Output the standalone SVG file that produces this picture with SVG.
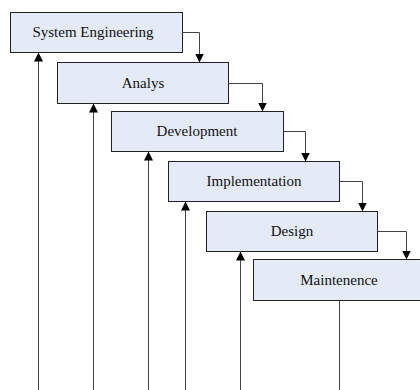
<svg xmlns="http://www.w3.org/2000/svg" width="420" height="390" viewBox="0 0 420 390">
  <style>
    .box { fill: #E4EBF7; stroke: #222; stroke-width: 1; }
    .label { font-family: "Liberation Serif", "Times New Roman", serif; font-size: 15px; fill: #111; text-anchor: middle; }
    .link { fill: none; stroke: #444; stroke-width: 1; }
  </style>
  <defs>
    <marker id="arrow" viewBox="0 0 10 10" refX="10" refY="5" markerWidth="9" markerHeight="9" markerUnits="userSpaceOnUse" orient="auto">
      <path d="M0,0 L10,5 L0,10 z" fill="#000"/>
    </marker>
  </defs>

  <rect width="420" height="390" fill="#fff"/>

  <!-- phase boxes, stepping down to the right -->
  <g id="system-engineering">
    <rect class="box" x="10.5" y="12.5" width="172" height="40"/>
    <text class="label" x="93" y="37">System Engineering</text>
  </g>
  <g id="analys">
    <rect class="box" x="57.5" y="62.5" width="171" height="41"/>
    <text class="label" x="143" y="88">Analys</text>
  </g>
  <g id="development">
    <rect class="box" x="111.5" y="111.5" width="172" height="40"/>
    <text class="label" x="197" y="136">Development</text>
  </g>
  <g id="implementation">
    <rect class="box" x="168.5" y="161.5" width="171" height="40"/>
    <text class="label" x="254" y="186">Implementation</text>
  </g>
  <g id="design">
    <rect class="box" x="206.5" y="211.5" width="171" height="40"/>
    <text class="label" x="292" y="236">Design</text>
  </g>
  <g id="maintenence">
    <rect class="box" x="253.5" y="259.5" width="171" height="41"/>
    <text class="label" x="339" y="285">Maintenence</text>
  </g>

  <!-- connectors -->
  <g id="connectors">
    <!-- forward flow: right side of each phase down into the next -->
    <path class="link" d="M182.5,32.5 H199.5 V62.5" marker-end="url(#arrow)"/>
    <path class="link" d="M228.5,83.5 H262.5 V111.5" marker-end="url(#arrow)"/>
    <path class="link" d="M283.5,131.5 H305.5 V161.5" marker-end="url(#arrow)"/>
    <path class="link" d="M339.5,181.5 H362.5 V211.5" marker-end="url(#arrow)"/>
    <path class="link" d="M377.5,231.5 H406.5 V259.5" marker-end="url(#arrow)"/>

    <!-- feedback lines rising from the bottom edge -->
    <path class="link" d="M38.5,390 V52.5" marker-end="url(#arrow)"/>
    <path class="link" d="M93.5,390 V103.5" marker-end="url(#arrow)"/>
    <path class="link" d="M148.5,390 V151.5" marker-end="url(#arrow)"/>
    <path class="link" d="M185.5,390 V201.5" marker-end="url(#arrow)"/>
    <path class="link" d="M240.5,390 V251.5" marker-end="url(#arrow)"/>
    <path class="link" d="M339.5,300.5 V390"/>
  </g>
</svg>
